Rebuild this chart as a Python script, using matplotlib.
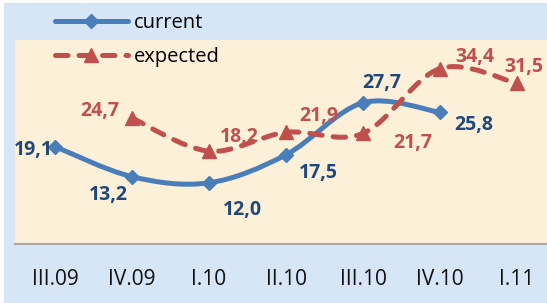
import matplotlib
matplotlib.use('Agg')
import matplotlib.pyplot as plt
from matplotlib.path import Path
from matplotlib.patches import PathPatch, Rectangle
from matplotlib.lines import Line2D

# ---- data ----
categories = ['III.09', 'IV.09', 'I.10', 'II.10', 'III.10', 'IV.10', 'I.11']
current = [19.1, 13.2, 12.0, 17.5, 27.7, 25.8, None]
expected = [None, 24.7, 18.2, 21.9, 21.7, 34.4, 31.5]
series_names = ['current', 'expected']

# ---- style / layout ----
W, H = 547, 303
BLUE = '#4A7EBB'
BLUE_TXT = '#1F497D'
RED = '#C0504D'
OUTER = '#D6E6F6'
PLOT_BG = '#FDF0D9'
FONT = 'Open Sans'

# label offsets in pixels (dx, dy) relative to each point
cur_off = [(-22, -3), (-24, -18), (33, -27), (32, -18), (19, 20), (34, -13), None]
exp_off = [None, (-32, 7), (30, 14), (33, 16), (50, -10), (35, 12), (7, 16)]


def smooth_path(xs, ys):
    pts = list(zip(xs, ys))
    n = len(pts)
    verts = [pts[0]]
    codes = [Path.MOVETO]
    for i in range(n - 1):
        p0 = pts[i - 1] if i > 0 else pts[i]
        p1 = pts[i]
        p2 = pts[i + 1]
        p3 = pts[i + 2] if i + 2 < n else pts[i + 1]
        c1 = (p1[0] + (p2[0] - p0[0]) / 6.0, p1[1] + (p2[1] - p0[1]) / 6.0)
        c2 = (p2[0] - (p3[0] - p1[0]) / 6.0, p2[1] - (p3[1] - p1[1]) / 6.0)
        verts += [c1, c2, p2]
        codes += [Path.CURVE4] * 3
    return Path(verts, codes)


fig = plt.figure(figsize=(W / 100, H / 100), dpi=100)
fig.patch.set_facecolor('white')
bg = Rectangle((4 / W, 0), 1 - 4 / W + 0.01, (H - 3) / H,
               transform=fig.transFigure, color=OUTER, zorder=-10)
fig.patches.append(bg)

EXTRA = 6  # plot area runs off the right edge
ax = fig.add_axes([15 / W, (H - 244) / H, (W - 15 + EXTRA) / W, (244 - 40) / H])
ax.set_zorder(1)
ax.set_facecolor(PLOT_BG)
ax.set_xlim(-40 / 77, (492 + EXTRA) / 77)
ax.set_ylim(0, 40)
for s in ['top', 'right', 'left']:
    ax.spines[s].set_visible(False)
ax.spines['bottom'].set_color('#A6A6A6')
ax.spines['bottom'].set_linewidth(1.5)
ax.set_yticks([])
ax.set_xticks(range(len(categories)))
ax.set_xticklabels(categories, fontsize=15, fontfamily=FONT, color='#111111')
ax.tick_params(axis='x', length=0, pad=18)

# current
cx = [i for i, v in enumerate(current) if v is not None]
cy = [v for v in current if v is not None]
ax.add_patch(PathPatch(smooth_path(cx, cy), fill=False, edgecolor=BLUE,
                       linewidth=3.6, capstyle='round', joinstyle='round', zorder=3))
ax.plot(cx, cy, linestyle='none', marker='D', markersize=7, color=BLUE, zorder=4)

# expected
ex = [i for i, v in enumerate(expected) if v is not None]
ey = [v for v in expected if v is not None]
ax.add_patch(PathPatch(smooth_path(ex, ey), fill=False, edgecolor=RED,
                       linewidth=3.6, linestyle=(0, (2.5, 2.2)), capstyle='round',
                       joinstyle='round', zorder=3))
ax.plot(ex, ey, linestyle='none', marker='^', markersize=10, color=RED, zorder=4)

# labels
def fmt(v):
    return f'{v:.1f}'.replace('.', ',')

for i, v in enumerate(current):
    if v is None:
        continue
    ax.annotate(fmt(v), (i, v), xytext=cur_off[i], textcoords='offset pixels',
                ha='center', va='center', fontsize=14, fontweight='bold',
                fontfamily=FONT, color=BLUE_TXT, zorder=5)
for i, v in enumerate(expected):
    if v is None:
        continue
    ax.annotate(fmt(v), (i, v), xytext=exp_off[i], textcoords='offset pixels',
                ha='center', va='center', fontsize=14, fontweight='bold',
                fontfamily=FONT, color=RED, zorder=5)

# legend
h1 = Line2D([], [], color=BLUE, linewidth=3.6, marker='D', markersize=7,
            solid_capstyle='round')
h2 = Line2D([], [], color=RED, linewidth=3.6, linestyle=(0, (2.5, 2.2)),
            marker='^', markersize=10, dash_capstyle='round')
leg = fig.legend([h1, h2], series_names, loc='upper left',
                 bbox_to_anchor=(55 / W, 1 - 13 / H), frameon=False,
                 borderpad=0, borderaxespad=0, handlelength=3.6,
                 handletextpad=0.3, labelspacing=0.68, numpoints=1,
                 prop={'family': FONT, 'size': 14.5})
leg.set_zorder(10)

fig.savefig('out.png', dpi=100, facecolor=fig.get_facecolor())
